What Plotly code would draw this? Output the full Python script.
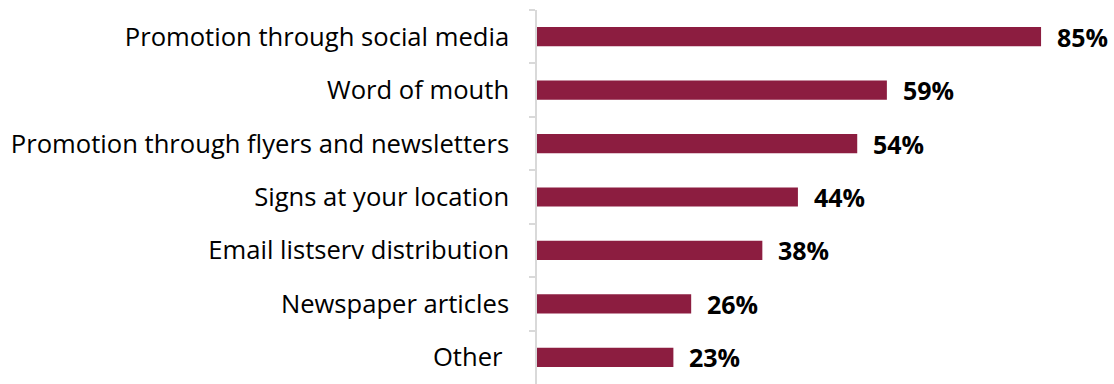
import plotly.graph_objects as go

categories = [
    "Promotion through social media",
    "Word of mouth",
    "Promotion through flyers and newsletters",
    "Signs at your location",
    "Email listserv distribution",
    "Newspaper articles",
    "Other\u00a0",
]
values = [85, 59, 54, 44, 38, 26, 23]

BAR_COLOR = "#8C1D40"
FONT = "Open Sans, Calibri, sans-serif"

fig = go.Figure(
    go.Bar(
        x=values,
        y=categories,
        orientation="h",
        marker=dict(color=BAR_COLOR, line=dict(width=0)),
        width=0.36,
        hoverinfo="skip",
    )
)

for cat, val in zip(categories, values):
    fig.add_annotation(
        x=val,
        y=cat,
        text=f"<b>{val}%</b>",
        showarrow=False,
        xanchor="left",
        yanchor="middle",
        xshift=14,
        font=dict(family=FONT, size=25, color="#000000"),
    )

fig.update_layout(
    width=1114,
    height=384,
    margin=dict(l=537, r=0, t=10, b=0),
    paper_bgcolor="white",
    plot_bgcolor="white",
    showlegend=False,
    font=dict(family=FONT, size=25.6, color="#000000"),
    bargap=0.6,
)
fig.update_xaxes(
    range=[0, 97.3],
    visible=False,
    showgrid=False,
    zeroline=False,
)
fig.update_yaxes(
    autorange=False,
    range=[6.5, -0.5],
    categoryorder="array",
    categoryarray=categories,
    showline=True,
    linecolor="#D9D9D9",
    linewidth=1.5,
    ticks="outside",
    tickson="boundaries",
    ticklen=6,
    tickcolor="#D9D9D9",
    tickwidth=1.5,
    ticklabelstandoff=21,
    showgrid=False,
    zeroline=False,
    tickfont=dict(family=FONT, size=25.6, color="#000000"),
)

fig.write_html("out.html")
